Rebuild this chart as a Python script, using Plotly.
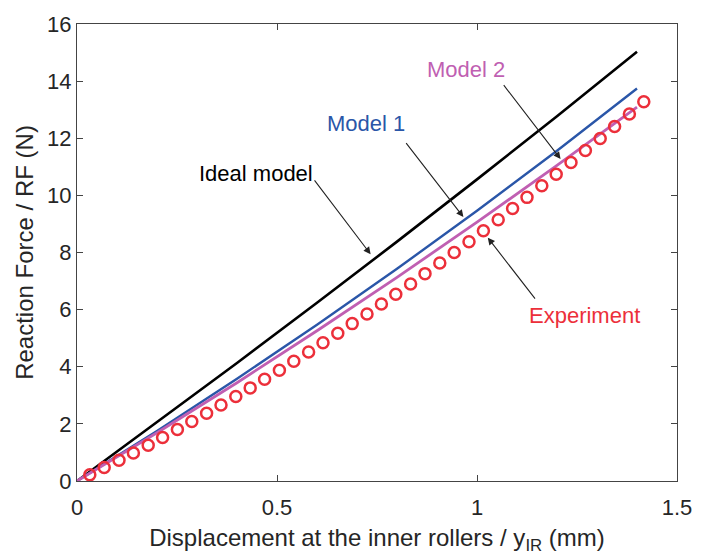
import plotly.graph_objects as go

# Model lines (x in mm, force in N)
line_x = [0.0, 0.2, 0.4, 0.6, 0.8, 1.0, 1.2, 1.4]
ideal_y = [0.0, 2.05, 4.13, 6.24, 8.38, 10.56, 12.77, 15.03]
model1_y = [0.0, 1.75, 3.58, 5.47, 7.43, 9.46, 11.56, 13.74]
model2_y = [0.0, 1.69, 3.44, 5.26, 7.13, 9.06, 11.05, 13.09]

# Experiment (circles)
exp_x = [0.032, 0.068, 0.105, 0.141, 0.178, 0.214, 0.251, 0.287, 0.324, 0.360,
         0.397, 0.433, 0.469, 0.506, 0.542, 0.579, 0.615, 0.652, 0.688, 0.725,
         0.761, 0.797, 0.834, 0.870, 0.907, 0.943, 0.980, 1.016, 1.053, 1.089,
         1.125, 1.162, 1.198, 1.235, 1.271, 1.308, 1.344, 1.381, 1.417]
exp_y = [0.22, 0.47, 0.73, 0.98, 1.25, 1.52, 1.80, 2.08, 2.37, 2.66,
         2.96, 3.26, 3.56, 3.88, 4.19, 4.52, 4.84, 5.17, 5.51, 5.85,
         6.20, 6.54, 6.90, 7.26, 7.63, 8.00, 8.38, 8.76, 9.15, 9.54,
         9.93, 10.34, 10.74, 11.15, 11.57, 11.99, 12.41, 12.85, 13.28]

FONT = "Liberation Sans, Arial, sans-serif"

fig = go.Figure()
fig.add_trace(go.Scatter(x=line_x, y=ideal_y, mode="lines",
                         line=dict(color="#000000", width=2.6), name="Ideal model"))
fig.add_trace(go.Scatter(x=line_x, y=model1_y, mode="lines",
                         line=dict(color="#2a56a8", width=2.4), name="Model 1"))
fig.add_trace(go.Scatter(x=line_x, y=model2_y, mode="lines",
                         line=dict(color="#c05fb2", width=2.8), name="Model 2"))
fig.add_trace(go.Scatter(x=exp_x, y=exp_y, mode="markers",
                         marker=dict(symbol="circle-open", size=11, color="#ec2f3a",
                                     line=dict(width=2.5, color="#ec2f3a")),
                         name="Experiment"))

# annotations: (text, text x, text y, color, tail x, tail y, tip x, tip y)
labels = [
    ("Ideal model", 0.448, 10.75, "#000000", 0.591, 10.58, 0.734, 7.94),
    ("Model 1", 0.722, 12.50, "#2a56a8", 0.820, 11.88, 0.966, 9.24),
    ("Model 2", 0.973, 14.42, "#c05fb2", 1.064, 13.91, 1.209, 11.27),
    ("Experiment", 1.268, 5.78, "#ec2f3a", 1.148, 6.33, 1.027, 8.52),
]
for txt, tx, ty, col, ax_, ay_, hx, hy in labels:
    fig.add_annotation(x=tx, y=ty, text=txt, showarrow=False,
                       font=dict(family=FONT, size=22, color=col))
    fig.add_annotation(x=hx, y=hy, ax=ax_, ay=ay_, xref="x", yref="y",
                       axref="x", ayref="y", text="", showarrow=True,
                       arrowhead=2, arrowsize=1.3, arrowwidth=1.1,
                       arrowcolor="#222222")

axis_common = dict(showgrid=False, zeroline=False, showline=True, linecolor="#444444",
                   linewidth=1.3, mirror="ticks", ticks="inside", ticklen=6,
                   tickcolor="#444444", tickfont=dict(family=FONT, size=22, color="#262626"))

fig.update_layout(
    width=704, height=558,
    margin=dict(l=77, r=18, t=15, b=77),
    paper_bgcolor="white", plot_bgcolor="white",
    showlegend=False,
    font=dict(family=FONT, color="#262626"),
    xaxis=dict(range=[0, 1.5], tickvals=[0, 0.5, 1, 1.5], ticktext=["0", "0.5", "1", "1.5"],
               ticklabelstandoff=6,
               title=dict(text="Displacement at the inner rollers / y<sub>IR</sub> (mm)",
                          font=dict(family=FONT, size=24, color="#262626"), standoff=10),
               **axis_common),
    yaxis=dict(range=[0, 16], tickvals=list(range(0, 17, 2)),
               title=dict(text="Reaction Force / RF (N)",
                          font=dict(family=FONT, size=24, color="#262626"), standoff=6),
               **axis_common),
)

fig.write_html("out.html")
